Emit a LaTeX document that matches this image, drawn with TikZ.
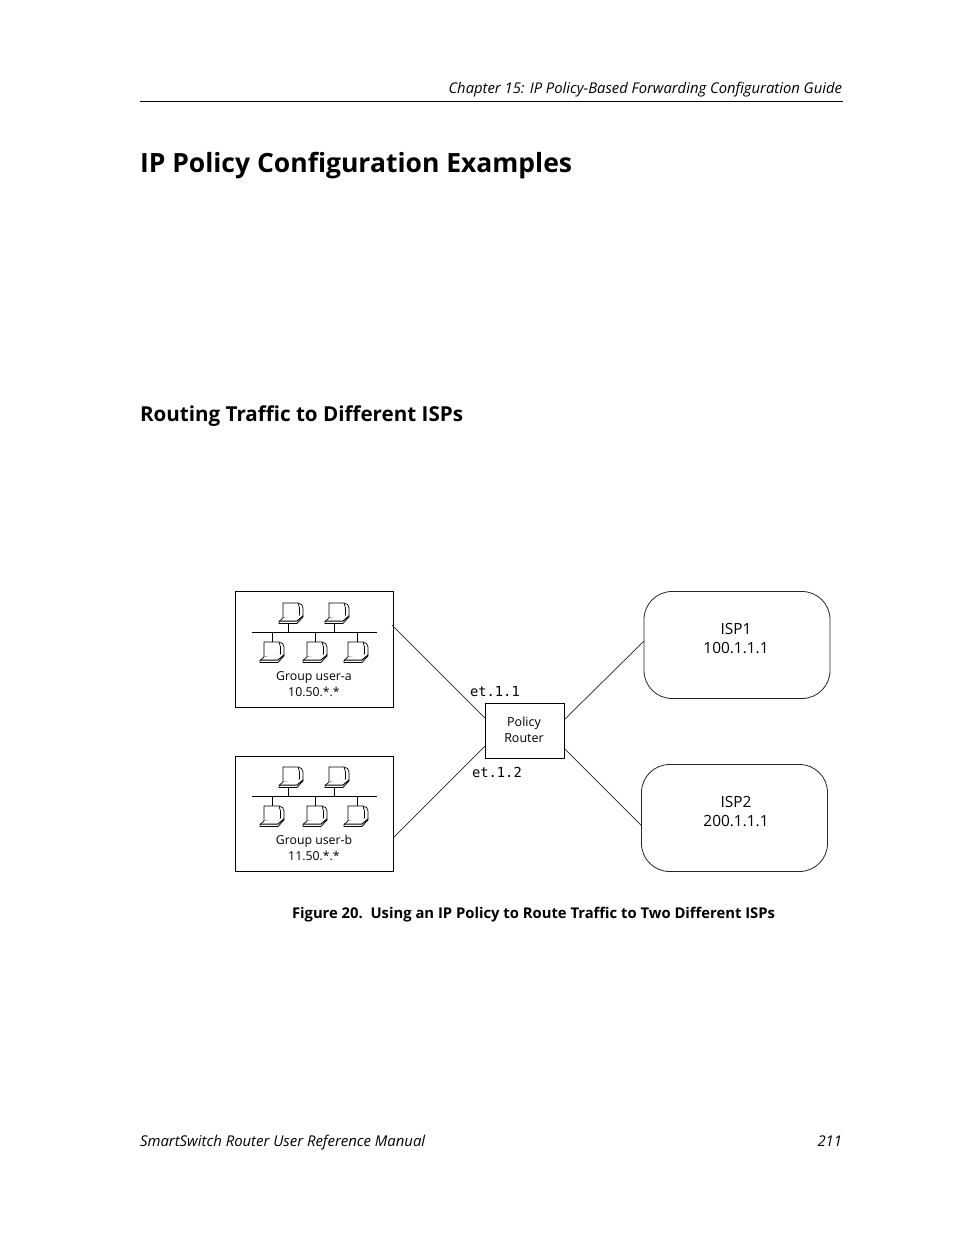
\documentclass[tikz,border=0pt]{standalone}
\usepackage{fontspec}
\setmainfont{Open Sans}
\newfontfamily\monof{DejaVu Sans Mono}
\tikzset{
 x=1pt,y=-1pt,
 txt/.style={inner sep=0pt,outer sep=0pt,align=center,text=black},
 boxn/.style={draw=black,line width=0.9pt,inner sep=0pt,outer sep=0pt,fill=white},
 isp/.style={draw=black!85,line width=0.8pt,rounded corners=28pt,inner sep=0pt,outer sep=0pt},
 link/.style={draw=black!85,line width=0.7pt},
 net/.style={draw=black,line width=0.8pt},
 pc/.style={draw=black,line width=0.7pt,fill=white,line join=miter},
 pcb/.style={draw=black,line width=1pt,line join=miter}
}
\newcommand{\pcicon}[2]{%
 \begin{scope}[shift={(#1,#2)}]
  \draw[pc] (4,0) -- (19,0) .. controls (22,0.5) and (24,2) .. (24,5) -- (24,12) -- (19,15) -- (4,15) -- cycle;
  \draw[pc] (19,0) .. controls (20,2) and (20.5,3) .. (20.5,5) -- (20.5,12) -- (19,15);
  \draw[pc] (4,15) -- (0,18.5) -- (0,20.5) -- (18,20.5) -- (24,14) -- (24,12);
  \draw[pcb] (0,18) -- (18,18) -- (24,13);
 \end{scope}}
\newcommand{\grp}[7]{%
 \node[boxn,minimum width=158pt,minimum height=#3pt,anchor=north west] (#1) at (235.5,#2) {};
 \draw[net] (252,#4) -- (377,#4);
 \foreach \xx in {288,334} \draw[net] (\xx,#4-9) -- (\xx,#4);
 \foreach \xx in {272,315,357} \draw[net] (\xx,#4) -- (\xx,#4+10);
 \pcicon{279}{#4-29}\pcicon{325}{#4-29}
 \pcicon{260}{#4+10}\pcicon{303}{#4+10}\pcicon{344}{#4+10}
 \node[txt,font=\fontsize{12.3}{16}\selectfont] (#1t) at (314,#5) {#6\\#7};
}
\begin{document}
\begin{tikzpicture}
\useasboundingbox (0,0) rectangle (954,1235);
\fill[white] (0,0) rectangle (954,1235);
\node[txt,anchor=base east,font=\fontsize{14.8}{16}\selectfont\itshape] (hdr) at (842,93.5) {Chapter 15: IP Policy-Based Forwarding Configuration Guide};
\coordinate (r1) at (140,101.5);
\coordinate (r2) at (843,101.5);
\draw[black,line width=1pt] (r1) -- (r2);
\node[txt,anchor=base west,font=\fontsize{26.5}{32}\selectfont\bfseries] (title) at (140,172) {IP Policy Configuration Examples};
\node[txt,anchor=base west,font=\fontsize{20.6}{24}\selectfont\bfseries] (sub) at (140,421) {Routing Traffic to Different ISPs};

\grp{ga}{591.5}{116}{632}{684}{Group user-a}{10.50.*.*}
\grp{gb}{756.5}{115}{796}{848}{Group user-b}{11.50.*.*}

\node[boxn,minimum width=79pt,minimum height=55pt,anchor=north west] (pr) at (485.5,703.5) {};
\node[txt,font=\fontsize{12.5}{16}\selectfont] (prt) at (524,729.5) {Policy\\Router};
\node[isp,minimum width=186pt,minimum height=107pt,anchor=north west] (isp1) at (644,591.5) {};
\node[isp,minimum width=186pt,minimum height=107pt,anchor=north west] (isp2) at (641.5,764.5) {};
\node[txt,font=\fontsize{15.4}{19}\selectfont] (t1) at (736,639) {ISP1\\100.1.1.1};
\node[txt,font=\fontsize{15.4}{19}\selectfont] (t2) at (736,812) {ISP2\\200.1.1.1};

\coordinate (a1) at (392,625);
\coordinate (a2) at (393,838);
\coordinate (p1) at (486,719);
\coordinate (p2) at (485,746);
\coordinate (p3) at (565,719);
\coordinate (p4) at (565,749);
\coordinate (i1) at (644,641);
\coordinate (i2) at (642,826);
\draw[link] (a1) -- (p1);
\draw[link] (a2) -- (p2);
\draw[link] (p3) -- (i1);
\draw[link] (p4) -- (i2);
\node[txt,anchor=base west,font=\fontsize{13.8}{16}\selectfont\monof] (e1) at (470,696) {et.1.1};
\node[txt,anchor=base west,font=\fontsize{13.8}{16}\selectfont\monof] (e2) at (472,777) {et.1.2};

\node[txt,anchor=base west,font=\fontsize{14.8}{16}\selectfont\bfseries] (cap) at (292,918) {Figure 20.\ \ Using an IP Policy to Route Traffic to Two Different ISPs};
\node[txt,anchor=base west,font=\fontsize{14.9}{16}\selectfont\itshape] (fl) at (140,1146) {SmartSwitch Router User Reference Manual};
\node[txt,anchor=base east,font=\fontsize{14.8}{16}\selectfont\itshape] (fr) at (842,1146) {211};
\end{tikzpicture}
\end{document}
